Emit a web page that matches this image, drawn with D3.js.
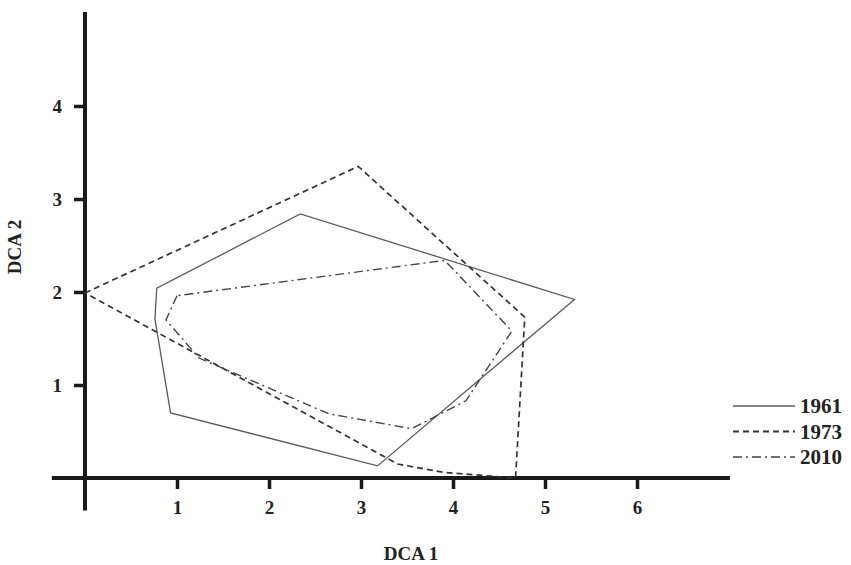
<!DOCTYPE html>
<html>
<head>
<meta charset="utf-8">
<script src="https://cdn.jsdelivr.net/npm/d3@7"></script>
<style>
    body { margin: 0; background: #fff; }
    #chart { width: 851px; height: 565px; }
    .tick text, .axisLabel, .legendText {
        font-family: "Liberation Serif", "Times New Roman", serif;
        font-weight: bold;
        fill: #222;
    }
</style>
</head>
<body>
<div id="chart"></div>
<script>

/**
    0. DATA (DCA axis units)
*/

const years = ["1961", "1973", "2010"];

// hull vertices for each survey year, [DCA 1, DCA 2]
const hull1961 = [[0.78, 2.04], [0.76, 1.71], [0.93, 0.70], [3.18, 0.13], [5.32, 1.92], [2.34, 2.84]];
const hull1973 = [[0.00, 1.99], [2.97, 3.35], [4.78, 1.73], [4.68, 0.00], [3.90, 0.06], [3.40, 0.15]];
const hull2010 = [[1.00, 1.96], [0.88, 1.70], [1.24, 1.29], [2.65, 0.69], [3.55, 0.53], [4.14, 0.83], [4.64, 1.58], [3.91, 2.34]];

const xTicks = [1, 2, 3, 4, 5, 6];
const yTicks = [1, 2, 3, 4];

/**
    1. SVG CANVAS
*/

const width = 851;
const height = 565;

const svg = d3.select("#chart")
    .append("svg")
    .attr("width", width)
    .attr("height", height);

/**
    2. SCALES
*/

const xScale = d3.scaleLinear()
    .domain([0, 7])
    .range([85, 85 + 7 * 92]);

const yScale = d3.scaleLinear()
    .domain([0, 5])
    .range([478, 478 - 5 * 93]);

/**
    3. AXES
*/

const xAxis = svg.append("g")
    .attr("transform", `translate(0,${yScale(0)})`)
    .call(d3.axisBottom(xScale).tickValues(xTicks).tickFormat(d3.format("d"))
        .tickSize(11).tickPadding(12));

const yAxis = svg.append("g")
    .attr("transform", `translate(${xScale(0)},0)`)
    .call(d3.axisLeft(yScale).tickValues(yTicks).tickFormat(d3.format("d"))
        .tickSize(11).tickPadding(12));

// thick axis lines drawn by hand so they cross past the origin
[xAxis, yAxis].forEach(function(a) {
    a.select(".domain").remove();
    a.selectAll(".tick line").attr("stroke", "#1a1a1a").attr("stroke-width", 3.5);
    a.selectAll(".tick text").style("font-size", "19px");
});

svg.append("line")
    .attr("x1", xScale(-0.36)).attr("x2", xScale(7.01))
    .attr("y1", yScale(0)).attr("y2", yScale(0))
    .attr("stroke", "#1a1a1a").attr("stroke-width", 4);

svg.append("line")
    .attr("x1", xScale(0)).attr("x2", xScale(0))
    .attr("y1", yScale(5.01)).attr("y2", yScale(-0.35))
    .attr("stroke", "#1a1a1a").attr("stroke-width", 4);

/**
    4. HULLS
*/

const styles = {
    "1961": { data: hull1961, color: "#5a5a5a", width: 1.3, dash: null },
    "1973": { data: hull1973, color: "#333", width: 1.7, dash: "6,4" },
    "2010": { data: hull2010, color: "#444", width: 1.4, dash: "9,4,2,4" }
};

const line = d3.line()
    .x(function(d) { return xScale(d[0]); })
    .y(function(d) { return yScale(d[1]); })
    .curve(d3.curveLinearClosed);

svg.selectAll("path.hull")
    .data(years)
    .enter()
    .append("path")
        .attr("class", "hull")
        .attr("d", function(y) { return line(styles[y].data); })
        .attr("fill", "none")
        .attr("stroke", function(y) { return styles[y].color; })
        .attr("stroke-width", function(y) { return styles[y].width; })
        .attr("stroke-dasharray", function(y) { return styles[y].dash; });

/**
    5. AXIS LABELS
*/

svg.append("text")
    .attr("class", "axisLabel")
    .attr("x", 411)
    .attr("y", 560)
    .attr("text-anchor", "middle")
    .style("font-size", "19px")
    .text("DCA 1");

svg.append("text")
    .attr("class", "axisLabel")
    .attr("transform", "rotate(-90)")
    .attr("x", -247)
    .attr("y", 21)
    .attr("text-anchor", "middle")
    .style("font-size", "19px")
    .text("DCA 2");

/**
    6. LEGEND
*/

const legend = svg.selectAll("g.legend")
    .data(years)
    .enter()
    .append("g")
        .attr("class", "legend")
        .attr("transform", function(d, i) { return `translate(733,${406 + i * 25.5})`; });

legend.append("line")
    .attr("x1", 0).attr("x2", 62)
    .attr("stroke", function(y) { return styles[y].color; })
    .attr("stroke-width", function(y) { return styles[y].width + 0.3; })
    .attr("stroke-dasharray", function(y) { return styles[y].dash; });

legend.append("text")
    .attr("class", "legendText")
    .attr("x", 67)
    .attr("y", 7)
    .style("font-size", "21px")
    .text(function(y) { return y; });

</script>
</body>
</html>
